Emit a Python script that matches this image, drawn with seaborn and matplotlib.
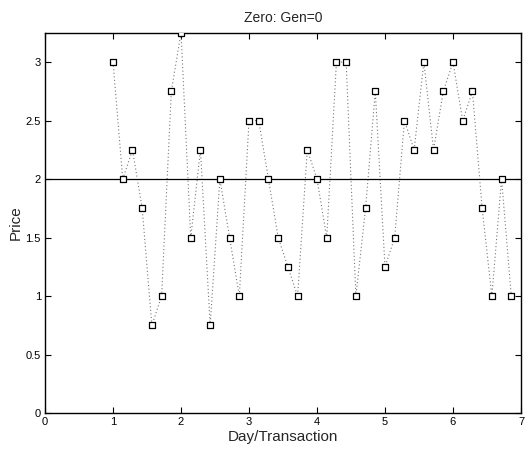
import matplotlib
matplotlib.use("Agg")
import matplotlib.pyplot as plt
import seaborn as sns
import numpy as np
import pandas as pd

sns.set_style("white")
plt.rcParams['font.family'] = ['Liberation Sans', 'DejaVu Sans']

transaction = list(range(7, 49))  # transaction index (day = index / 7)
price = [3, 2, 2.25, 1.75, 0.75, 1, 2.75,
         3.25, 1.5, 2.25, 0.75, 2, 1.5, 1,
         2.5, 2.5, 2, 1.5, 1.25, 1, 2.25,
         2, 1.5, 3, 3, 1, 1.75, 2.75,
         1.25, 1.5, 2.5, 2.25, 3, 2.25, 2.75,
         3, 2.5, 2.75, 1.75, 1, 2, 1]
ref_price = 2.0
xticks = [0, 1, 2, 3, 4, 5, 6, 7]
yticks = [0, 0.5, 1, 1.5, 2, 2.5, 3]
ytick_labels = ["0", "0.5", "1", "1.5", "2", "2.5", "3"]

df = pd.DataFrame({"day": np.array(transaction) / 7.0, "price": price})

fig = plt.figure(figsize=(5.3, 4.5), dpi=100)
ax = fig.add_axes([0.085, 0.082, 0.898, 0.845])

sns.lineplot(data=df, x="day", y="price", ax=ax, color="#777777",
             linestyle=(0, (1, 2.2)), linewidth=0.8, sort=False)
sns.scatterplot(data=df, x="day", y="price", ax=ax, marker="s", s=17,
                facecolor="white", edgecolor="black", linewidth=0.9, zorder=3)
ax.axhline(ref_price, color="black", linewidth=0.9, zorder=2)

ax.set_xlim(0, 7)
ax.set_ylim(0, 3.25)
ax.set_xticks(xticks)
ax.set_xticklabels([str(t) for t in xticks])
ax.set_yticks(yticks)
ax.set_yticklabels(ytick_labels)
ax.tick_params(direction="in", length=4, width=0.8, labelsize=8, top=True, right=True,
               bottom=True, left=True, pad=3, colors="black")
for sp in ax.spines.values():
    sp.set_visible(True)
    sp.set_color("black")
    sp.set_linewidth(1.0)

ax.set_xlabel("Day/Transaction", fontsize=11, labelpad=2)
ax.set_ylabel("Price", fontsize=11, labelpad=2)
ax.set_title("Zero: Gen=0", fontsize=10, pad=8)

fig.savefig("out.png", dpi=100)
